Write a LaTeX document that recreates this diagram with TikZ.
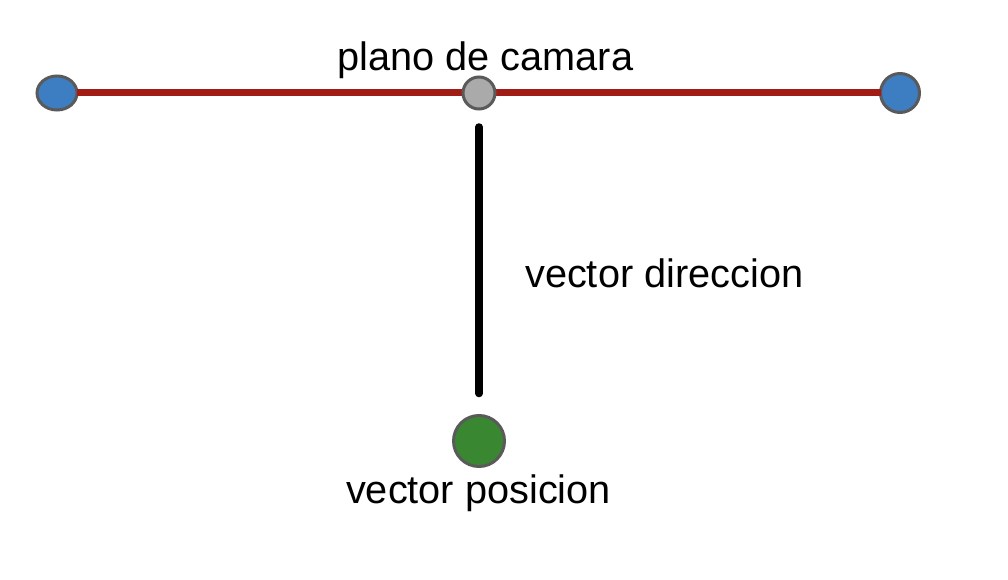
\documentclass[tikz,border=0pt]{standalone}
\usepackage{fontspec}
\setmainfont{Liberation Sans}
\usetikzlibrary{shapes.geometric}
\definecolor{dotblue}{RGB}{61,125,194}
\definecolor{dotgray}{RGB}{170,170,170}
\definecolor{dotgreen}{RGB}{58,135,50}
\definecolor{dotedge}{RGB}{90,90,90}
\definecolor{planered}{RGB}{160,28,20}
\tikzset{
  dot/.style={draw=dotedge, line width=3pt, inner sep=0pt, outer sep=0pt},
  lbl/.style={anchor=base, inner sep=0pt, font=\fontsize{39.7}{46}\selectfont},
  planeline/.style={draw=planered, line width=7pt},
  dirline/.style={draw=black, line width=7.5pt, line cap=round}
}
\begin{document}
\begin{tikzpicture}[x=1pt,y=-1pt]
\useasboundingbox (0,0) rectangle (1008,580);
\node[dot, ellipse, fill=dotblue, minimum width=40pt, minimum height=34pt] (left) at (57,93) {};
\node[dot, circle, fill=dotblue, minimum size=39pt] (right) at (900,93) {};
\draw[planeline] (left) -- (right);
\node[dot, circle, fill=dotgray, minimum size=32pt] (mid) at (479,93) {};
\node[dot, circle, fill=dotgreen, minimum size=51pt] (pos) at (479,441) {};
\draw[dirline, shorten <=18pt, shorten >=22pt] (mid) -- (pos);
\node[lbl] (tplane) at (485.5,71) {plano de camara};
\node[lbl, anchor=base west] (tdir) at (525,287) {vector direccion};
\node[lbl] (tpos) at (478.5,503) {vector posicion};
\end{tikzpicture}
\end{document}
